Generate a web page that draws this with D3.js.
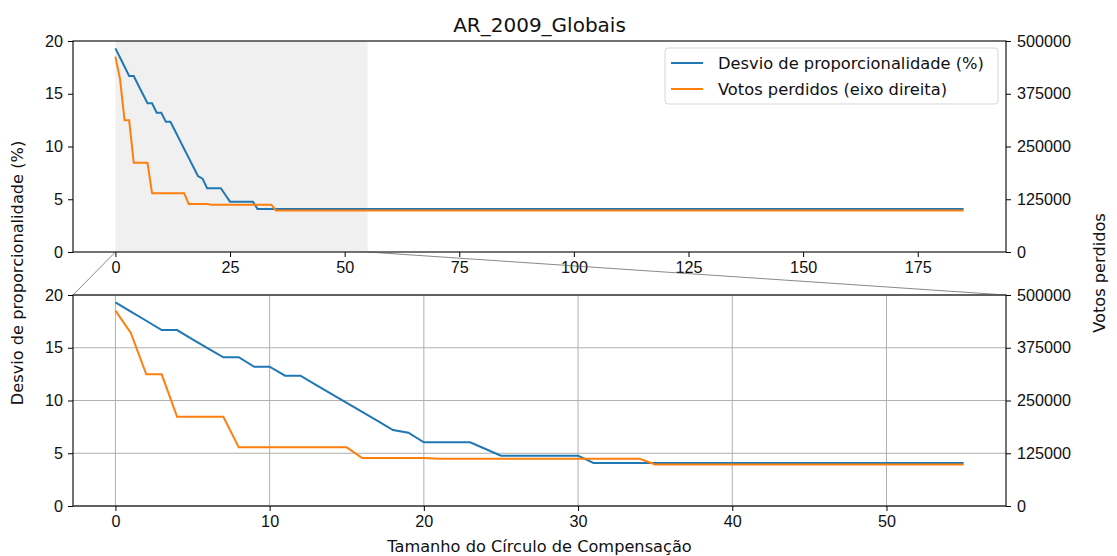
<!DOCTYPE html>
<html>
<head>
<meta charset="utf-8">
<script src="https://cdn.jsdelivr.net/npm/d3@7"></script>
<style>
  body { margin: 0; background: #fff; }
  svg { font-family: "DejaVu Sans", sans-serif; }
  .tick text { font-size: 16.2px; fill: #111; }
</style>
</head>
<body>
<svg width="1117" height="556"></svg>
<script>
// breakpoints of the two curves (flat after 35)
const circulo = [0,1,2,3,4,5,6,7,8,9,10,11,12,13,14,15,16,17,18,19,20,21,22,23,24,25,26,27,28,29,30,31,32,33,34,35,55,185];
const desvio = [19.3,18.43,17.56,16.68,16.68,15.8,14.95,14.1,14.1,13.2,13.2,12.35,12.35,11.49,10.63,9.77,8.92,8.06,7.2,6.95,6.04,6.04,6.04,6.04,5.4,4.77,4.77,4.77,4.77,4.77,4.77,4.08,4.08,4.08,4.08,4.08,4.08,4.08];
const votos = [463000,410000,312000,312000,211500,211500,211500,211500,139000,139000,139000,139000,139000,139000,139000,139000,113500,113500,113500,113500,113500,112000,112000,112000,112000,112000,112000,112000,112000,112000,112000,112000,112000,112000,112000,98500,98500,98500];
const zoomMax = 55;
const leftTicks = [0,5,10,15,20];
const rightTicks = [0,125000,250000,375000,500000];
const topXTicks = [0,25,50,75,100,125,150,175];
const botXTicks = [0,10,20,30,40,50];
const titulo = "AR_2009_Globais";
const nomes = ["Desvio de proporcionalidade (%)", "Votos perdidos (eixo direita)"];
const cores = ["#1f77b4", "#ff7f0e"];

const DATA = circulo.map((c,i)=>({c:c, d:desvio[i], v:votos[i]}));

const svg = d3.select("svg");
const L = 73, R = 1006;

function panel(top, bottom, data, xmax, xticks, grid) {
  const g = svg.append("g");
  const x = d3.scaleLinear().domain([-0.05*xmax, 1.05*xmax]).range([L, R]);
  const yl = d3.scaleLinear().domain([0,20]).range([bottom, top]);
  const yr = d3.scaleLinear().domain([0,500000]).range([bottom, top]);

  if (grid) {
    g.selectAll(".gx").data(xticks).enter().append("line")
      .attr("x1", d=>x(d)).attr("x2", d=>x(d)).attr("y1", top).attr("y2", bottom)
      .attr("stroke", "#b0b0b0").attr("stroke-width", 1);
    g.selectAll(".gy").data(leftTicks).enter().append("line")
      .attr("x1", L).attr("x2", R).attr("y1", d=>yl(d)).attr("y2", d=>yl(d))
      .attr("stroke", "#b0b0b0").attr("stroke-width", 1);
  } else {
    g.append("rect")
      .attr("x", x(0)).attr("y", top)
      .attr("width", x(zoomMax)-x(0)).attr("height", bottom-top)
      .attr("fill", "#f0f0f0");
  }

  g.append("path").datum(data)
    .attr("fill", "none").attr("stroke", cores[0]).attr("stroke-width", 2)
    .attr("d", d3.line().x(d=>x(d.c)).y(d=>yl(d.d)));
  g.append("path").datum(data)
    .attr("fill", "none").attr("stroke", cores[1]).attr("stroke-width", 2)
    .attr("d", d3.line().x(d=>x(d.c)).y(d=>yr(d.v)));

  g.append("g").attr("transform", `translate(0,${bottom})`)
    .call(d3.axisBottom(x).tickValues(xticks).tickSize(5).tickPadding(4).tickFormat(d3.format("d")));
  g.append("g").attr("transform", `translate(${L},0)`)
    .call(d3.axisLeft(yl).tickValues(leftTicks).tickSize(5).tickPadding(5).tickFormat(d3.format("d")));
  g.append("g").attr("transform", `translate(${R},0)`)
    .call(d3.axisRight(yr).tickValues(rightTicks).tickSize(5).tickPadding(6).tickFormat(d3.format("d")));
  g.selectAll(".domain").remove();
  g.selectAll(".tick line").attr("stroke", "#000");

  g.append("rect").attr("x", L).attr("y", top).attr("width", R-L).attr("height", bottom-top)
    .attr("fill", "none").attr("stroke", "#000").attr("stroke-width", 1.1);
  return {x: x, yl: yl};
}

const topP = panel(41, 252, DATA, 185, topXTicks, false);
const botP = panel(295, 506, DATA.filter(d=>d.c<=zoomMax), zoomMax, botXTicks, true);

// zoom connectors
svg.append("line").attr("x1", topP.x(0)).attr("y1", 252).attr("x2", L).attr("y2", 295)
  .attr("stroke", "#555").attr("stroke-width", 0.7);
svg.append("line").attr("x1", topP.x(zoomMax)).attr("y1", 252).attr("x2", R).attr("y2", 295)
  .attr("stroke", "#555").attr("stroke-width", 0.7);

// legend
const lg = svg.append("g").attr("transform", "translate(665,48)");
lg.append("rect").attr("width", 333).attr("height", 56).attr("rx", 3)
  .attr("fill", "#fff").attr("fill-opacity", 0.8).attr("stroke", "#d6d6d6");
nomes.forEach((n,i)=>{
  lg.append("line").attr("x1", 6).attr("x2", 38).attr("y1", 15+i*26).attr("y2", 15+i*26)
    .attr("stroke", cores[i]).attr("stroke-width", 2);
  lg.append("text").attr("x", 53).attr("y", 15+i*26).attr("dy", "0.35em")
    .attr("font-size", 16.3).attr("fill", "#111").text(n);
});

// titles
svg.append("text").attr("x", (L+R)/2).attr("y", 32).attr("text-anchor", "middle")
  .attr("font-size", 20).attr("fill", "#111").text(titulo);
svg.append("text").attr("x", (L+R)/2).attr("y", 552).attr("text-anchor", "middle")
  .attr("font-size", 16.2).attr("fill", "#111").text("Tamanho do Círculo de Compensação");
svg.append("text").attr("transform", "translate(23,273) rotate(-90)").attr("text-anchor", "middle")
  .attr("font-size", 16.2).attr("fill", "#111").text("Desvio de proporcionalidade (%)");
svg.append("text").attr("transform", "translate(1105,273) rotate(-90)").attr("text-anchor", "middle")
  .attr("font-size", 16.2).attr("fill", "#111").text("Votos perdidos");
</script>
</body>
</html>
